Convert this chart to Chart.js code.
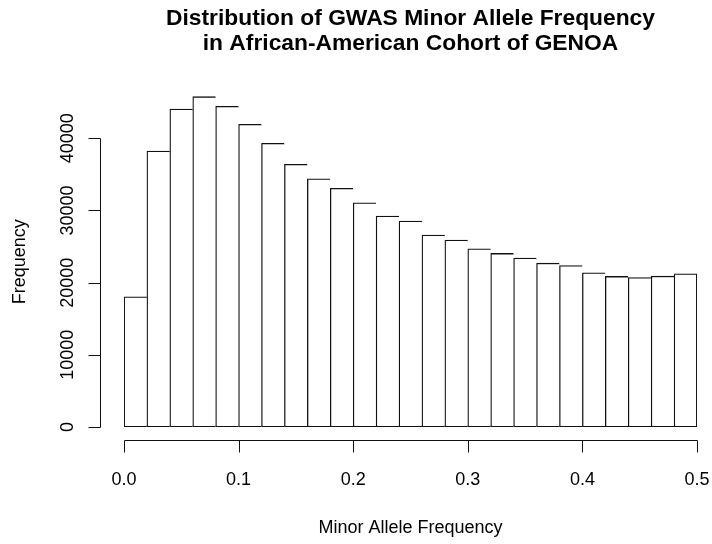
<!DOCTYPE html>
<html>
<head>
<meta charset="utf-8">
<script src="https://cdn.jsdelivr.net/npm/chart.js@4.4.1/dist/chart.umd.min.js"></script>
<style>
  html, body { margin: 0; padding: 0; background: #ffffff; }
  canvas { display: block; }
</style>
</head>
<body>
<canvas id="histMaf" width="712" height="544"></canvas>
<script>
// bins de 0.02 entre 0 e 0.5
const binStarts = [0.00, 0.02, 0.04, 0.06, 0.08, 0.10, 0.12, 0.14, 0.16, 0.18,
                   0.20, 0.22, 0.24, 0.26, 0.28, 0.30, 0.32, 0.34, 0.36, 0.38,
                   0.40, 0.42, 0.44, 0.46, 0.48];
const binWidth = 0.02;
const counts = [18030, 38240, 44060, 45770, 44440, 41940, 39300, 36390, 34400, 33060,
                31070, 29220, 28530, 26590, 25890, 24690, 24050, 23400, 22700, 22380,
                21360, 20860, 20720, 20900, 21220];

const xTicks = [0, 0.1, 0.2, 0.3, 0.4, 0.5];
const yTicks = [0, 10000, 20000, 30000, 40000];

const tituloLinhas = ['Distribution of GWAS Minor Allele Frequency',
                      'in African-American Cohort of GENOA'];
const tituloX = 'Minor Allele Frequency';
const tituloY = 'Frequency';

const corLinha = '#111111';
const fonte = '"Liberation Sans", Arial, Helvetica, sans-serif';

// eixos no estilo do R, afastados da área dos dados
const eixosR = {
  id: 'eixosR',
  afterDraw(chart) {
    const ctx = chart.ctx;
    const x = chart.scales.x;
    const y = chart.scales.y;
    const area = chart.chartArea;

    const eixoXY = area.bottom + 13.5;
    const eixoYX = area.left - 23.5;

    ctx.save();
    ctx.strokeStyle = corLinha;
    ctx.lineWidth = 1;
    ctx.fillStyle = '#000000';

    // eixo x
    const x0 = Math.round(x.getPixelForValue(xTicks[0])) + 0.5;
    const x1 = Math.round(x.getPixelForValue(xTicks[xTicks.length - 1])) + 0.5;
    ctx.beginPath();
    ctx.moveTo(x0, eixoXY);
    ctx.lineTo(x1, eixoXY);
    xTicks.forEach(v => {
      const px = Math.round(x.getPixelForValue(v)) + 0.5;
      ctx.moveTo(px, eixoXY);
      ctx.lineTo(px, eixoXY + 12);
    });
    ctx.stroke();

    ctx.font = '18px ' + fonte;
    ctx.textAlign = 'center';
    ctx.textBaseline = 'alphabetic';
    xTicks.forEach(v => {
      ctx.fillText(v.toFixed(1), x.getPixelForValue(v), 485);
    });

    // eixo y
    const y0 = Math.round(y.getPixelForValue(yTicks[0])) + 0.5;
    const y1 = Math.round(y.getPixelForValue(yTicks[yTicks.length - 1])) + 0.5;
    ctx.beginPath();
    ctx.moveTo(eixoYX, y0);
    ctx.lineTo(eixoYX, y1);
    yTicks.forEach(v => {
      const py = Math.round(y.getPixelForValue(v)) + 0.5;
      ctx.moveTo(eixoYX, py);
      ctx.lineTo(eixoYX - 12, py);
    });
    ctx.stroke();

    yTicks.forEach(v => {
      ctx.save();
      ctx.translate(73, y.getPixelForValue(v));
      ctx.rotate(-Math.PI / 2);
      ctx.fillText(String(v), 0, 0);
      ctx.restore();
    });

    // centro da regiao do grafico (dados +- 4%)
    const centroX = (x.getPixelForValue(-0.02) + x.getPixelForValue(0.52)) / 2;
    const centroY = (y.getPixelForValue(-1830) + y.getPixelForValue(47600)) / 2;

    ctx.fillText(tituloX, centroX, 533);

    ctx.save();
    ctx.translate(25, centroY);
    ctx.rotate(-Math.PI / 2);
    ctx.fillText(tituloY, 0, 0);
    ctx.restore();

    // titulo principal
    ctx.font = 'bold 22.8px ' + fonte;
    ctx.fillText(tituloLinhas[0], centroX, 25);
    ctx.fillText(tituloLinhas[1], centroX, 50);

    ctx.restore();
  }
};

const canvasHist = document.getElementById('histMaf').getContext('2d');

const graficoHist = new Chart(canvasHist, {
  type: 'bar',
  data: {
    datasets: [
      {
        label: 'MAF',
        data: binStarts.map((b, i) => ({ x: b + binWidth / 2, y: counts[i] })),
        backgroundColor: '#ffffff',
        borderColor: corLinha,
        borderSkipped: false,
        borderWidth: (c) => ({
          top: 1.3,
          left: 1.3,
          bottom: 1.3,
          right: c.dataIndex === counts.length - 1 ? 1.3 : 0
        }),
        barPercentage: 1,
        categoryPercentage: 1
      }
    ]
  },
  options: {
    responsive: false,
    animation: false,
    layout: {
      padding: { left: 124, right: 15, top: 95, bottom: 117 }
    },
    scales: {
      x: { type: 'linear', min: 0, max: 0.5, offset: false, display: false },
      y: { min: 0, max: 46000, display: false }
    },
    plugins: {
      legend: { display: false },
      tooltip: { enabled: false }
    }
  },
  plugins: [eixosR]
});
</script>
</body>
</html>
